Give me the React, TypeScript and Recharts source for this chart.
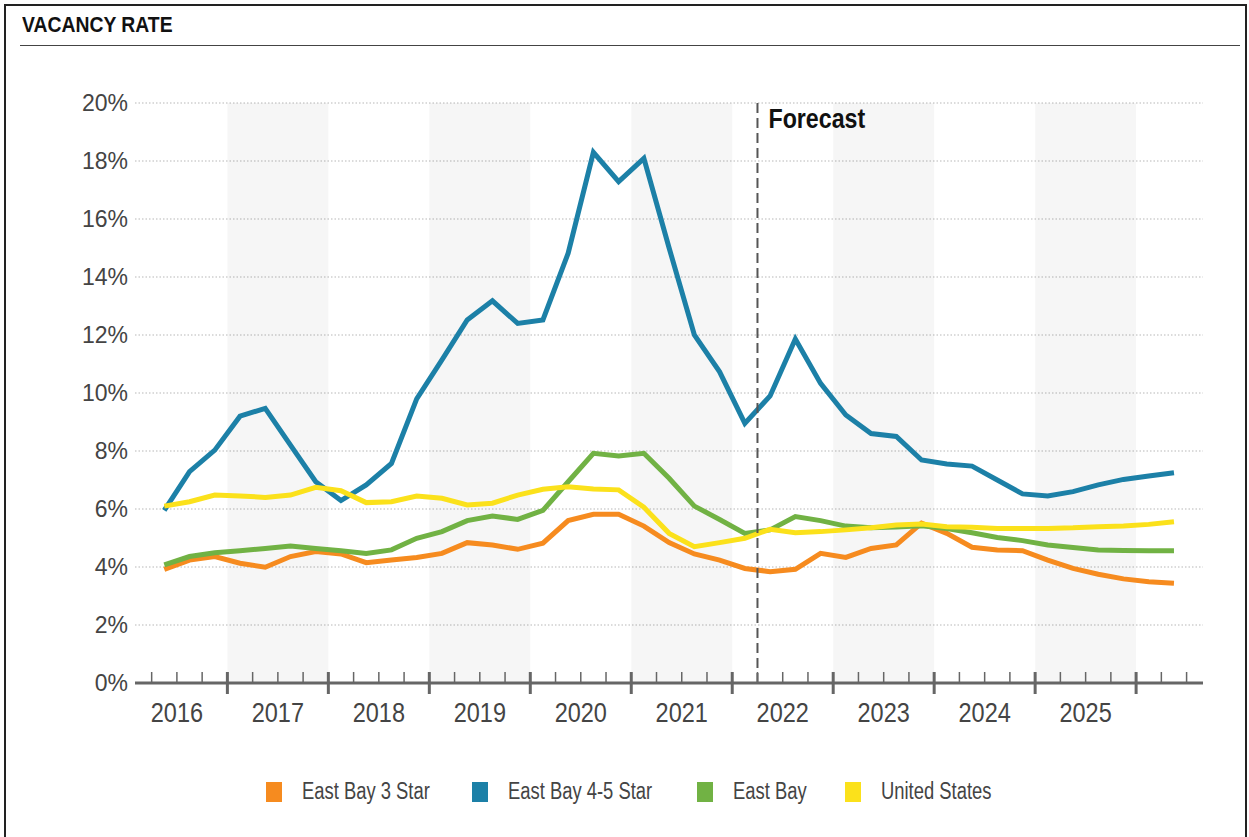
import * as React from "react"
import { CartesianGrid, Line, LineChart, ReferenceArea, ReferenceLine, XAxis, YAxis } from "recharts"

// Quarterly vacancy, 2016 Q2 through 2026 Q2 (forecast from 2022 Q2)
const quarters = Array.from({ length: 41 }, (_, i) => {
  const n = i + 1
  return `${2016 + Math.floor(n / 4)} Q${(n % 4) + 1}`
})

const eastBay3Star = [
  3.92, 4.24, 4.36, 4.13, 3.99, 4.36, 4.53, 4.45, 4.15, 4.24, 4.33, 4.47, 4.84, 4.76,
  4.61, 4.82, 5.6, 5.82, 5.82, 5.41, 4.84, 4.45, 4.24, 3.95, 3.84, 3.92, 4.47, 4.33,
  4.64, 4.76, 5.51, 5.16, 4.68, 4.59, 4.56, 4.24, 3.95, 3.75, 3.59, 3.49, 3.44,
]

const eastBay45Star = [
  5.95, 7.29, 8.03, 9.2, 9.47, 8.2, 6.94, 6.29, 6.83, 7.57, 9.8, 11.14, 12.52, 13.18,
  12.4, 12.52, 14.82, 18.3, 17.29, 18.09, 15.0, 12.0, 10.73, 8.95, 9.9, 11.86, 10.33, 9.24,
  8.6, 8.5, 7.69, 7.55, 7.48, 7.0, 6.52, 6.45, 6.6, 6.83, 7.02, 7.14, 7.25,
]

const eastBay = [
  4.07, 4.36, 4.49, 4.56, 4.64, 4.72, 4.64, 4.56, 4.47, 4.59, 4.99, 5.22, 5.6, 5.76,
  5.64, 5.95, 6.94, 7.92, 7.83, 7.92, 7.06, 6.1, 5.64, 5.16, 5.28, 5.74, 5.6, 5.41,
  5.35, 5.38, 5.42, 5.33, 5.18, 5.02, 4.91, 4.76, 4.67, 4.59, 4.57, 4.56, 4.56,
]

const unitedStates = [
  6.1, 6.25, 6.48, 6.45, 6.4, 6.48, 6.75, 6.63, 6.22, 6.25, 6.45, 6.37, 6.14, 6.2,
  6.48, 6.68, 6.77, 6.69, 6.66, 6.06, 5.16, 4.7, 4.84, 4.99, 5.3, 5.18, 5.22, 5.28,
  5.35, 5.45, 5.48, 5.39, 5.37, 5.33, 5.33, 5.33, 5.35, 5.39, 5.41, 5.47, 5.56,
]

const yearLabels = [2016, 2017, 2018, 2019, 2020, 2021, 2022, 2023, 2024, 2025]
const shadedYears = [2017, 2019, 2021, 2023, 2025]
const yTicks = [0, 2, 4, 6, 8, 10, 12, 14, 16, 18, 20]
const forecastStart = "2022 Q2"

const series = [
  { key: "eastBay3Star", name: "East Bay 3 Star", color: "#f68b1f", values: eastBay3Star },
  { key: "eastBay45Star", name: "East Bay 4-5 Star", color: "#1c80a7", values: eastBay45Star },
  { key: "eastBay", name: "East Bay", color: "#71b244", values: eastBay },
  { key: "unitedStates", name: "United States", color: "#fbe11b", values: unitedStates },
]

// legend swatch left edges
const legendX = [266, 472, 697, 845]

const FONT = "'Liberation Sans', Arial, sans-serif"

// quarters counted from the start of 2016
const quarterStart = (label: string) => {
  const [y, q] = label.split(" Q")
  return (Number(y) - 2016) * 4 + Number(q) - 1
}

const data = quarters.map((q, i) => {
  const row: Record<string, number | string> = { quarter: q, t: quarterStart(q) + 0.5 }
  series.forEach((s) => {
    row[s.key] = s.values[i]
  })
  return row
})

const axisTicks = Array.from({ length: 42 }, (_, i) => i + 1)

// narrow text: squeeze Arial horizontally
const Narrow = ({ children, scale = 0.82 }: { children: React.ReactNode; scale?: number }) => (
  <span style={{ display: "inline-block", whiteSpace: "nowrap", transform: `scaleX(${scale})`, transformOrigin: "left center" }}>
    {children}
  </span>
)

const QuarterTick = (props: any) => {
  const { x, y, payload } = props
  const t = payload.value as number
  const major = t % 4 === 0
  const label = t % 4 === 2 ? yearLabels[(t - 2) / 4] : undefined
  return (
    <g>
      <line x1={x} x2={x} y1={y - 11} y2={major ? y + 11 : y} stroke="#666" strokeWidth={major ? 3 : 1.5} />
      {label !== undefined && (
        <text
          transform={`translate(${x},${y + 39}) scale(0.84,1)`}
          textAnchor="middle"
          fill="#444"
          fontSize={28}
          fontFamily={FONT}
        >
          {label}
        </text>
      )}
    </g>
  )
}

const ForecastLabel = (props: any) => {
  const { viewBox } = props
  return (
    <text
      transform={`translate(${viewBox.x + 11},${viewBox.y + 25}) scale(0.86,1)`}
      fill="#111"
      fontSize={27}
      fontWeight="bold"
      fontFamily={FONT}
    >
      Forecast
    </text>
  )
}

export default function App() {
  return (
    <div style={{ position: "absolute", left: 0, top: 0, width: 1249, height: 837, background: "#fff", overflow: "hidden" }}>
      <div style={{ position: "absolute", left: 4, top: 4, width: 1239, height: 850, border: "2px solid #222" }} />
      <div
        style={{
          position: "absolute",
          left: 22,
          top: 14,
          fontFamily: FONT,
          fontWeight: "bold",
          fontSize: 22,
          lineHeight: "22px",
          color: "#111",
        }}
      >
        <Narrow scale={0.88}>VACANCY RATE</Narrow>
      </div>
      <div style={{ position: "absolute", left: 20, top: 45, width: 1220, height: 1, background: "#444" }} />

      <div style={{ position: "absolute", left: 0, top: 0 }}>
        <LineChart width={1249} height={837} data={data} margin={{ top: 103, right: 46, bottom: 114, left: 75 }}>
          {shadedYears.map((yr) => (
            <ReferenceArea
              key={yr}
              x1={(yr - 2016) * 4}
              x2={(yr - 2015) * 4}
              y1={0}
              y2={20}
              fill="#000"
              fillOpacity={0.035}
              stroke="none"
            />
          ))}
          <CartesianGrid vertical={false} stroke="#b8b8b8" strokeDasharray="1.5 2" strokeWidth={1.2} />
          <XAxis
            dataKey="t"
            type="number"
            domain={[0.34, 42.65]}
            ticks={axisTicks}
            interval={0}
            height={40}
            tickSize={0}
            tickMargin={0}
            tickLine={false}
            axisLine={{ stroke: "#666", strokeWidth: 3 }}
            tick={<QuarterTick />}
          />
          <YAxis
            type="number"
            domain={[0, 20]}
            ticks={yTicks}
            width={60}
            tickSize={0}
            tickMargin={7}
            axisLine={false}
            tickLine={false}
            tickFormatter={(v: number) => `${v}%`}
            tick={{ fill: "#444", fontSize: 23, fontFamily: FONT }}
          />
          {series.map((s) => (
            <Line
              key={s.key}
              type="linear"
              dataKey={s.key}
              name={s.name}
              stroke={s.color}
              strokeWidth={5}
              dot={false}
              isAnimationActive={false}
            />
          ))}
          <ReferenceLine
            x={quarterStart(forecastStart)}
            stroke="#555"
            strokeWidth={2}
            strokeDasharray="10 5"
            label={<ForecastLabel />}
          />
        </LineChart>
      </div>

      {series.map((s, i) => (
        <div
          key={s.key}
          style={{
            position: "absolute",
            left: legendX[i],
            top: 780,
            height: 23,
            display: "flex",
            alignItems: "center",
            fontFamily: FONT,
            fontSize: 23,
            lineHeight: "23px",
            color: "#444",
          }}
        >
          <span style={{ display: "inline-block", width: 16, height: 20, background: s.color, marginRight: 20 }} />
          <Narrow scale={0.8}>{s.name}</Narrow>
        </div>
      ))}
    </div>
  )
}
